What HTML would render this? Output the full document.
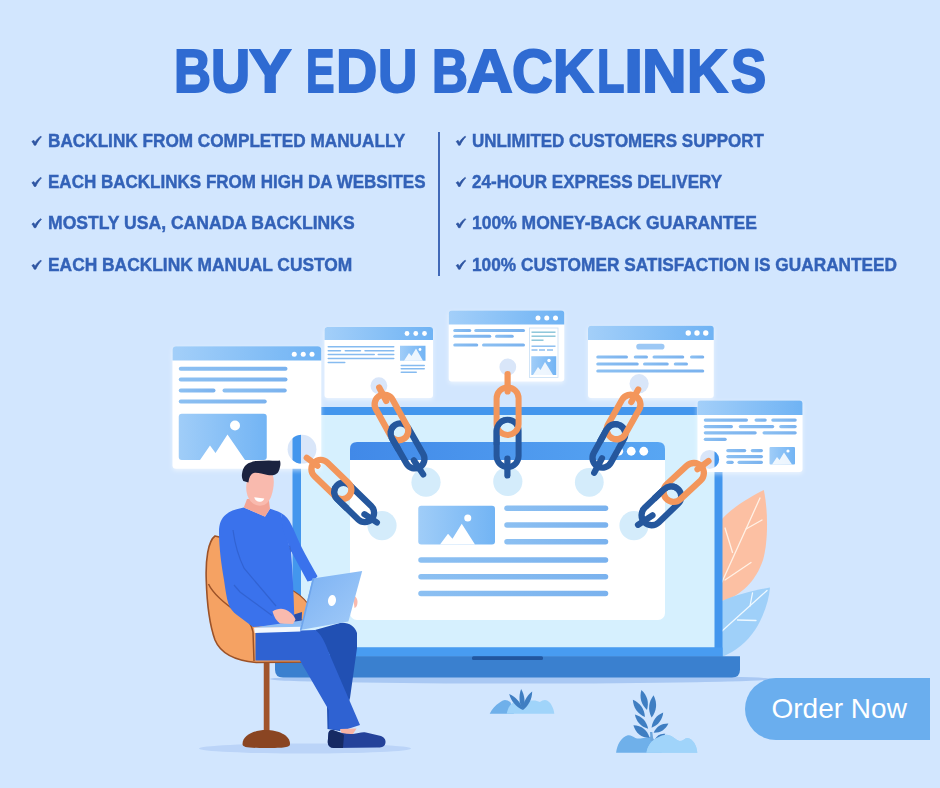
<!DOCTYPE html>
<html>
<head>
<meta charset="utf-8">
<title>Buy EDU Backlinks</title>
<style>
html,body{margin:0;padding:0;}
body{width:940px;height:788px;overflow:hidden;background:#d2e6fe;position:relative;font-family:"Liberation Sans",sans-serif;}
#art{position:absolute;left:0;top:0;width:940px;height:788px;}
.h{position:absolute;top:31.4px;-webkit-text-stroke:2px #2f6bd2;height:80px;line-height:80px;font-size:60.5px;font-weight:bold;color:#2f6bd2;white-space:nowrap;transform-origin:0 50%;letter-spacing:0;}
.b{position:absolute;-webkit-text-stroke:0.45px #3362b8;height:24px;line-height:24px;font-size:19.1px;font-weight:bold;color:#3362b8;white-space:nowrap;transform-origin:0 50%;}
.y1{top:128.7px}.y2{top:170.2px}.y3{top:210.7px}.y4{top:252.8px}
#divider{position:absolute;left:438px;top:132px;width:2px;height:144px;background:#4169b8;}
#btn{position:absolute;left:745px;top:678px;width:185px;height:62px;background:#6aaeee;border-radius:31px 0 0 31px;color:#fff;font-size:28px;line-height:62px;white-space:nowrap;}
#btn span{position:absolute;left:26.5px;top:-0.5px;}
</style>
</head>
<body>
<svg id="art" width="940" height="788" viewBox="0 0 940 788">
<defs>
<linearGradient id="gh" x1="0" y1="0" x2="1" y2="0"><stop offset="0" stop-color="#a3cff9"/><stop offset="1" stop-color="#6fb3f4"/></linearGradient>
<linearGradient id="gi" x1="0" y1="0" x2="1" y2="0"><stop offset="0" stop-color="#a0cdf8"/><stop offset="1" stop-color="#72b4f4"/></linearGradient>
<linearGradient id="gl" x1="0" y1="0" x2="1" y2="0"><stop offset="0" stop-color="#8cc0f2"/><stop offset="1" stop-color="#7ab2ee"/></linearGradient>
<linearGradient id="gbh" x1="0" y1="0" x2="1" y2="0"><stop offset="0" stop-color="#4189e8"/><stop offset="1" stop-color="#58a6f3"/></linearGradient>
<linearGradient id="gsl" x1="0" y1="0" x2="1" y2="1"><stop offset="0" stop-color="#7bb1f3"/><stop offset="1" stop-color="#a2cbf8"/></linearGradient>
<clipPath id="c1"><circle cx="302" cy="449.2" r="14.4"/></clipPath>
<clipPath id="c5"><circle cx="709.6" cy="459.4" r="9.5"/></clipPath>
<filter id="glow" x="-10%" y="-10%" width="120%" height="125%"><feGaussianBlur in="SourceAlpha" stdDeviation="2.2" result="b"/><feFlood flood-color="#ffffff" flood-opacity="0.55"/><feComposite in2="b" operator="in" result="g"/><feOffset in="g" dy="1.5" result="go"/><feMerge><feMergeNode in="go"/><feMergeNode in="SourceGraphic"/></feMerge></filter>
</defs>
<!-- shadow under laptop -->
<ellipse cx="520" cy="679" rx="250" ry="4.5" fill="#a9c8f3"/>
<!-- leaves behind laptop -->
<path d="M722 601 L722 519 C734 506 752 496 763.8 490 C768 510 768.5 540 763 560 C756 581 741 596 722 601 Z" fill="#fcc0a3"/>
<g stroke="#fff1e6" stroke-width="1.3" fill="none" stroke-linecap="round"><path d="M722 582 L760 498"/><path d="M746 529 L762 520"/><path d="M732.5 552.5 L725 528"/><path d="M725 580 L751 562.5"/></g>
<path d="M722 601 C738 594 756 590 770 587.5 C769 600 764 616 755 630 C747 642 736 651 722 657 Z" fill="#9fd0f9"/>
<g stroke="#eef8ff" stroke-width="1.3" fill="none" stroke-linecap="round"><path d="M722 631 L767 590.5"/><path d="M750 606 L752.5 593"/><path d="M737.5 620 L756 620.5"/></g>
<!-- laptop screen -->
<path d="M292.5 656.5 L292.5 413 Q292.5 407 298.5 407 L716.5 407 Q722.5 407 722.5 413 L722.5 656.5 Z" fill="#4396ed"/>
<rect x="301" y="415" width="413.5" height="232.5" fill="#d6f0fe"/>
<!-- inner browser -->
<rect x="350" y="442" width="315" height="178" rx="7" fill="#ffffff"/>
<path d="M350 460 L350 449 Q350 442 357 442 L658 442 Q665 442 665 449 L665 460 Z" fill="url(#gbh)"/>
<circle cx="618.75" cy="451.25" r="4.4" fill="#fff"/><circle cx="631.25" cy="451.25" r="4.4" fill="#fff"/><circle cx="643.75" cy="451.25" r="4.4" fill="#fff"/>
<rect x="418.25" y="505.75" width="76.75" height="38.75" rx="3" fill="url(#gi)"/>
<circle cx="467.75" cy="518" r="3.5" fill="#fff"/>
<path d="M440 544.5 L448 533.75 L452.5 538.75 L461.75 523.75 L475 544.5 Z" fill="#fff"/>
<g fill="url(#gl)">
<rect x="504.25" y="505.5" width="104" height="5.5" rx="2.75"/>
<rect x="504.25" y="522.25" width="104" height="5.5" rx="2.75"/>
<rect x="504.25" y="539" width="104" height="5.5" rx="2.75"/>
<rect x="418.25" y="557.25" width="190" height="5.5" rx="2.75"/>
<rect x="418.25" y="574" width="190" height="5.5" rx="2.75"/>
<rect x="418.25" y="590.75" width="190" height="5.5" rx="2.75"/>
</g>
<!-- base -->
<rect x="292.5" y="647.5" width="430" height="9" fill="#489cf1"/>
<path d="M275 656.25 L740 656.25 L740 669.5 Q740 677.5 732 677.5 L283 677.5 Q275 677.5 275 669.5 Z" fill="#3a80cf"/>
<rect x="472" y="656.25" width="71" height="3.75" rx="1.5" fill="#21569f"/>
<!-- window 1 -->
<g filter="url(#glow)">
<rect x="172.5" y="346.25" width="148.75" height="122.5" rx="3.5" fill="#fff"/>
<path d="M172.5 360.5 L172.5 349.75 Q172.5 346.25 176 346.25 L317.75 346.25 Q321.25 346.25 321.25 349.75 L321.25 360.5 Z" fill="url(#gh)"/>
<circle cx="294.25" cy="354.25" r="2.5" fill="#fff"/><circle cx="303.25" cy="354.25" r="2.5" fill="#fff"/><circle cx="312" cy="354.25" r="2.5" fill="#fff"/>
<g fill="url(#gl)">
<rect x="178.75" y="366.75" width="108.75" height="4" rx="2"/>
<rect x="178.75" y="377.5" width="108.75" height="4" rx="2"/>
<rect x="178.75" y="388.5" width="36.75" height="4" rx="2"/><rect x="222.5" y="388.5" width="64.25" height="4" rx="2"/>
<rect x="178.75" y="399.5" width="88" height="4" rx="2"/>
</g>
<rect x="178.75" y="413.75" width="88" height="46.25" rx="3" fill="url(#gi)"/>
<circle cx="235" cy="425.5" r="5" fill="#fff"/>
<path d="M200 460 L210 445.5 L215.5 453 L227.5 434.5 L245 460 Z" fill="#fff"/>
</g>
<!-- window 2 -->
<g filter="url(#glow)">
<rect x="324.5" y="327" width="108.5" height="71" rx="3" fill="#fff"/>
<path d="M324.5 340 L324.5 330 Q324.5 327 327.5 327 L430 327 Q433 327 433 330 L433 340 Z" fill="url(#gh)"/>
<circle cx="407" cy="333.5" r="2.4" fill="#fff"/><circle cx="415.75" cy="333.5" r="2.4" fill="#fff"/><circle cx="424.5" cy="333.5" r="2.4" fill="#fff"/>
<g fill="#86bbf0">
<rect x="327.5" y="346" width="67" height="1.6" rx="0.8"/>
<rect x="327.5" y="350" width="13.75" height="1.6" rx="0.8"/><rect x="344.5" y="350" width="16.75" height="1.6" rx="0.8"/><rect x="364.25" y="350" width="30.25" height="1.6" rx="0.8"/>
<rect x="327.5" y="353.75" width="47.5" height="1.6" rx="0.8"/><rect x="377.5" y="353.75" width="17" height="1.6" rx="0.8"/>
<rect x="327.5" y="357.75" width="67" height="1.6" rx="0.8"/>
<rect x="327.5" y="361.75" width="18" height="1.6" rx="0.8"/>
<rect x="400.5" y="364.75" width="24.5" height="1.6" rx="0.8"/>
<rect x="400.5" y="368" width="24.5" height="1.6" rx="0.8"/>
<rect x="400.5" y="371.5" width="16.5" height="1.6" rx="0.8"/>
</g>
<rect x="400" y="345.75" width="25.5" height="15" fill="url(#gi)"/>
<path d="M404 360.75 L409 353 L411.5 356 L416 348.5 L423 360.75 Z" fill="#fff" opacity="0.85"/>
<circle cx="420" cy="349.5" r="1.4" fill="#fff"/>
</g>
<!-- window 3 -->
<g filter="url(#glow)">
<rect x="448.75" y="310.5" width="115.5" height="71" rx="3" fill="#fff"/>
<path d="M448.75 324.5 L448.75 313.5 Q448.75 310.5 451.75 310.5 L561.25 310.5 Q564.25 310.5 564.25 313.5 L564.25 324.5 Z" fill="url(#gh)"/>
<circle cx="538" cy="318" r="2.5" fill="#fff"/><circle cx="546.75" cy="318" r="2.5" fill="#fff"/><circle cx="555.5" cy="318" r="2.5" fill="#fff"/>
<g fill="url(#gl)">
<rect x="453.25" y="328.95" width="18" height="3.1" rx="1.55"/><rect x="474.25" y="328.95" width="50.75" height="3.1" rx="1.55"/>
<rect x="453.25" y="334.70" width="38" height="3.1" rx="1.55"/><rect x="495" y="334.70" width="18.75" height="3.1" rx="1.55"/>
<rect x="453.25" y="343.45" width="25" height="3.1" rx="1.55"/><rect x="482" y="343.45" width="43" height="3.1" rx="1.55"/>
</g>
<rect x="529.5" y="328" width="28.5" height="49.5" fill="#fff" stroke="#c8dff6" stroke-width="0.8"/>
<g fill="#86c3d8">
<rect x="531.5" y="331.5" width="24" height="1.4"/><rect x="531.5" y="335.5" width="24" height="1.4"/><rect x="531.5" y="339.5" width="12" height="1.4"/>
</g>
<g fill="#86bbf0"><rect x="531.5" y="345.5" width="24" height="1.4"/><rect x="531.5" y="349.3" width="6" height="1.4"/><rect x="539" y="349.3" width="6" height="1.4"/><rect x="547" y="349.3" width="6" height="1.4"/></g>
<rect x="531.25" y="356.25" width="25" height="18.75" fill="url(#gi)"/>
<path d="M533 375 L538 367 L540.5 370 L545 362 L553 375 Z" fill="#fff" opacity="0.85"/>
<circle cx="549" cy="360.5" r="1.7" fill="#fff"/>
</g>
<!-- window 4 -->
<g filter="url(#glow)">
<rect x="588" y="325.75" width="125.75" height="72.25" rx="3" fill="#fff"/>
<path d="M588 340 L588 328.75 Q588 325.75 591 325.75 L710.75 325.75 Q713.75 325.75 713.75 328.75 L713.75 340 Z" fill="url(#gh)"/>
<circle cx="688.25" cy="333" r="2.7" fill="#fff"/><circle cx="697" cy="333" r="2.7" fill="#fff"/><circle cx="705.75" cy="333" r="2.7" fill="#fff"/>
<rect x="636.25" y="343.75" width="28.25" height="5.75" rx="2.8" fill="#9cc8f5"/>
<g fill="url(#gl)">
<rect x="596.25" y="355.45" width="31.75" height="3.1" rx="1.55"/><rect x="633.75" y="355.45" width="14.25" height="3.1" rx="1.55"/><rect x="652.5" y="355.45" width="31.75" height="3.1" rx="1.55"/><rect x="690" y="355.45" width="14.25" height="3.1" rx="1.55"/>
<rect x="596.25" y="362.45" width="42.5" height="3.1" rx="1.55"/><rect x="643" y="362.45" width="25.75" height="3.1" rx="1.55"/><rect x="673.75" y="362.45" width="14.25" height="3.1" rx="1.55"/>
<rect x="596.25" y="369.45" width="108" height="3.1" rx="1.55"/>
</g>
</g>
<!-- window 5 -->
<g filter="url(#glow)">
<rect x="697.5" y="400.5" width="105" height="71.5" rx="3" fill="#fff"/>
<path d="M697.5 415 L697.5 403.5 Q697.5 400.5 700.5 400.5 L799.5 400.5 Q802.5 400.5 802.5 403.5 L802.5 415 Z" fill="url(#gh)"/>
<g fill="url(#gl)">
<rect x="703.75" y="418.45" width="44.25" height="3.2" rx="1.60"/><rect x="754.5" y="418.45" width="12.25" height="3.2" rx="1.60"/><rect x="771.25" y="418.45" width="25.5" height="3.2" rx="1.60"/>
<rect x="703.75" y="424.95" width="29.25" height="3.2" rx="1.60"/><rect x="738.75" y="424.95" width="35.5" height="3.2" rx="1.60"/><rect x="779.25" y="424.95" width="17.5" height="3.2" rx="1.60"/>
<rect x="703.75" y="431.20" width="53" height="3.2" rx="1.60"/><rect x="762.5" y="431.20" width="34.25" height="3.2" rx="1.60"/>
<rect x="703.75" y="437.70" width="23" height="3.2" rx="1.60"/>
<rect x="726.25" y="448.95" width="20" height="3.2" rx="1.60"/><rect x="750.75" y="448.95" width="12.25" height="3.2" rx="1.60"/>
<rect x="726.25" y="454.95" width="36.75" height="3.2" rx="1.60"/>
<rect x="726.25" y="460.70" width="7.5" height="3.2" rx="1.60"/><rect x="737.5" y="460.70" width="25.5" height="3.2" rx="1.60"/>
</g>
<rect x="769.5" y="447" width="25.5" height="17.5" rx="1" fill="url(#gi)"/>
<path d="M772 464.5 L777 457 L779.5 460 L784 452.5 L792 464.5 Z" fill="#fff" opacity="0.85"/>
<circle cx="788" cy="451" r="1.6" fill="#fff"/>
</g>
<!-- anchor circles -->
<g fill="#d9e6f9">
<circle cx="302" cy="449.2" r="14.4"/>
<circle cx="378.9" cy="385.7" r="8.4"/>
<circle cx="507.8" cy="367" r="8.4"/>
<circle cx="639.1" cy="383.7" r="9.6"/>
<circle cx="709.6" cy="459.4" r="9.5"/>
</g>
<rect x="292.5" y="430" width="8.5" height="40" fill="#4396ed" clip-path="url(#c1)"/>
<rect x="714.5" y="445" width="8.5" height="30" fill="#4396ed" clip-path="url(#c5)"/>
<g fill="#d4ecfb">
<circle cx="382" cy="525.6" r="14.6"/>
<circle cx="426" cy="482.2" r="14.6"/>
<circle cx="507.8" cy="481.5" r="14.6"/>
<circle cx="589.3" cy="482.3" r="14.4"/>
<circle cx="634" cy="525.6" r="14.6"/>
</g>
<!-- chains (generated) -->
<rect x="-9.35" y="-24.15" width="18.70" height="48.30" rx="9.35" transform="translate(354.10 502.40) rotate(-45.89)" fill="none" stroke="#25579d" stroke-width="6.3"/>
<path d="M364.40 514.20 L376.90 522.50" fill="none" stroke="#25579d" stroke-width="6.2" stroke-linecap="round"/>
<rect x="-9.35" y="-24.15" width="18.70" height="48.30" rx="9.35" transform="translate(331.40 479.50) rotate(-45.89)" fill="none" stroke="#f3965b" stroke-width="6.3"/>
<path d="M306.70 457.80 L317.50 465.80" fill="none" stroke="#f3965b" stroke-width="6.2" stroke-linecap="round"/>
<path d="M-9.35 -0.80 L-9.35 -14.80 A9.35 9.35 0 0 1 -2.34 -23.85" transform="translate(354.10 502.40) rotate(-45.89)" fill="none" stroke="#25579d" stroke-width="6.3" stroke-linecap="butt"/>
<rect x="-9.60" y="-24.44" width="19.20" height="48.88" rx="9.60" transform="translate(407.50 445.95) rotate(-29.77)" fill="none" stroke="#25579d" stroke-width="6.3"/>
<path d="M413.80 460.30 L423.20 474.40" fill="none" stroke="#25579d" stroke-width="6.2" stroke-linecap="round"/>
<rect x="-9.60" y="-24.62" width="19.20" height="49.24" rx="9.60" transform="translate(391.45 417.45) rotate(-28.73)" fill="none" stroke="#f3965b" stroke-width="6.3"/>
<path d="M379.20 387.50 L386.20 401.00" fill="none" stroke="#f3965b" stroke-width="6.2" stroke-linecap="round"/>
<path d="M-9.60 -0.84 L-9.60 -14.84 A9.60 9.60 0 0 1 -2.40 -24.14" transform="translate(407.50 445.95) rotate(-29.77)" fill="none" stroke="#25579d" stroke-width="6.3" stroke-linecap="butt"/>
<rect x="-11.00" y="-23.70" width="22.00" height="47.40" rx="11.00" transform="translate(507.60 443.40) rotate(-0.00)" fill="none" stroke="#25579d" stroke-width="6.0"/>
<path d="M507.40 458.50 L507.40 475.50" fill="none" stroke="#25579d" stroke-width="6.2" stroke-linecap="round"/>
<rect x="-11.00" y="-23.70" width="22.00" height="47.40" rx="11.00" transform="translate(507.60 411.20) rotate(-0.00)" fill="none" stroke="#f3965b" stroke-width="6.0"/>
<path d="M507.60 374.00 L507.60 391.50" fill="none" stroke="#f3965b" stroke-width="6.2" stroke-linecap="round"/>
<path d="M-11.00 1.30 L-11.00 -12.70 A11.00 11.00 0 0 1 -2.75 -23.35" transform="translate(507.60 443.40) rotate(-0.00)" fill="none" stroke="#25579d" stroke-width="6.0" stroke-linecap="butt"/>
<rect x="-9.85" y="-23.43" width="19.70" height="46.87" rx="9.85" transform="translate(608.90 445.90) rotate(28.78)" fill="none" stroke="#25579d" stroke-width="6.3"/>
<path d="M602.00 458.30 L594.20 472.80" fill="none" stroke="#25579d" stroke-width="6.2" stroke-linecap="round"/>
<rect x="-9.85" y="-24.08" width="19.70" height="48.15" rx="9.85" transform="translate(623.60 417.00) rotate(29.48)" fill="none" stroke="#f3965b" stroke-width="6.3"/>
<path d="M638.20 389.50 L631.30 402.00" fill="none" stroke="#f3965b" stroke-width="6.2" stroke-linecap="round"/>
<path d="M-9.85 0.42 L-9.85 -13.58 A9.85 9.85 0 0 1 -2.46 -23.12" transform="translate(608.90 445.90) rotate(28.78)" fill="none" stroke="#25579d" stroke-width="6.3" stroke-linecap="butt"/>
<rect x="-10.10" y="-23.58" width="20.20" height="47.17" rx="10.10" transform="translate(661.40 505.80) rotate(46.21)" fill="none" stroke="#25579d" stroke-width="6.3"/>
<path d="M652.50 515.30 L638.00 524.80" fill="none" stroke="#25579d" stroke-width="6.2" stroke-linecap="round"/>
<rect x="-10.10" y="-23.81" width="20.20" height="47.62" rx="10.10" transform="translate(683.70 482.40) rotate(47.25)" fill="none" stroke="#f3965b" stroke-width="6.3"/>
<path d="M708.50 461.00 L697.50 469.30" fill="none" stroke="#f3965b" stroke-width="6.2" stroke-linecap="round"/>
<path d="M-10.10 0.52 L-10.10 -13.48 A10.10 10.10 0 0 1 -2.52 -23.26" transform="translate(661.40 505.80) rotate(46.21)" fill="none" stroke="#25579d" stroke-width="6.3" stroke-linecap="butt"/>
<!-- floor shadow -->
<ellipse cx="305" cy="748.5" rx="106" ry="5" fill="#bbd4f8"/>
<!-- chair -->
<rect x="263.75" y="662" width="5.75" height="72" fill="#a0542c"/>
<path d="M242.5 744 C242.5 735 255 730 266 730 C278 730 290 735 290 744 C290 747.5 284 748 266 748 C248 748 242.5 747.5 242.5 744 Z" fill="#8a4522"/>
<path d="M215 536 C208 541 205.5 560 206.25 580 C207 606 210 626 215 640 C220 652 233 660.5 256.25 662.5 L307.5 662 L307.5 640 L262 600 L232 540 Z" fill="#f5a263" stroke="#9c5228" stroke-width="1.6" stroke-linejoin="round"/>
<path d="M208.5 584 C214 596 228 606 240 614 C248 619 252 625 253 632 L254 661" fill="none" stroke="#9c5228" stroke-width="1.5"/>
<path d="M288 588 C296 592 304 598 308 604 L306 620 L290 620 Z" fill="#f5a263" stroke="#9c5228" stroke-width="1.2"/>
<!-- back leg -->
<path d="M315 630 L340 623 C348 622 355 626 357 633 L357 648 L350 698 L340 731 L327.5 729 L327 707 L330 655 Z" fill="#2150b3"/>
<!-- front leg -->
<path d="M255.5 632 L301 630.5 L315 630 C320 632 326 644 328.75 652.5 L360 725 L343 730.5 L328.75 728.75 L328.75 710 L300 660.5 L255.5 660.5 Z" fill="#2f62d2"/>
<!-- shoe -->
<path d="M340 729 L356.5 728.5 L353 734 L342 734 Z" fill="#f7b3a5"/>
<path d="M328.5 733 C329 730.5 331 729.5 334 730.5 C340 733 347 734.5 353 734 C358 733.5 362 731.5 366 732.5 L381 736 C385 737.5 386.5 741 385 744.5 C384 747 381 747.5 377 747.5 L334 748 C329.5 748 327.5 745 327.8 741 Z" fill="#24429a"/>
<path d="M328.5 733 C329 730.5 331 729.5 334 730.5 C338 732 342 733 344 735 L343 748 L334 748 C329.5 748 327.5 745 327.8 741 Z" fill="#162a63"/>
<!-- torso + near arm -->
<path d="M294 614.5 L302 612 L301.5 624 L294 624 Z" fill="#2a4fa8"/>
<path d="M243.75 507.5 C236 509 230 511 226 514.5 C221 518.5 219 524 219 532 C219 548 221.5 565 224 580 C225.5 590 226.5 598 228.5 604 C230 608.5 233 612 237 615 L253 627 L294.5 623.5 C294 605 293 575 291 552 L284 528 L281 513 C277 511 273 509.5 270 508.75 L265 516.5 Z" fill="#3a72ec"/>
<path d="M281 513 C286 515.5 289 519.5 291.5 525 C294.5 531 297.5 539 301.5 547 C306 556 313 568 317.5 576.25 L314.25 580 L307.5 581.5 L291 551 L283 530 Z" fill="#3a72ec"/>
<path d="M233 530 C235 545 239 558 244.2 568.4 L276 606 M234 585 L240 592 L272 615.5 M289.5 546 L291 552" fill="none" stroke="#2f5fcc" stroke-width="1.2" opacity="0.8"/>
<!-- neck -->
<path d="M247 499 L243.75 507.5 L265 516.75 L270 508.75 L268.75 499 Z" fill="#f3a596"/>
<!-- head -->
<path d="M248 476 C246.5 482 245.8 487 246.5 491.5 C247.3 496.5 249.5 501 253 503.5 C256 505.5 259.5 506.2 263 505.3 C267 504.2 270 500 271.5 495.5 C273 491 273.8 486 273.8 482 C273.8 478 273 475 271.5 472.5 L252 470 Z" fill="#f9baae"/>
<path d="M254.2 497.3 L264.3 498.4 C263.6 500.8 261.4 502 259 501.8 C256.6 501.6 254.7 499.8 254.2 497.3 Z" fill="#fff"/>
<path d="M243.3 481 C242 478.5 241.6 476 242 474 C242.5 470.5 243.3 468.5 244.6 466.6 C246 464.5 247.8 463.5 249.7 462.8 C251.8 461.7 254 461 256.1 460.9 L268.9 460.6 C272.5 460.6 276.5 461.2 279.9 460.6 C280.6 462.5 280.6 464.5 280.1 466.6 C279.8 468.5 279.3 470.2 278.4 471.7 C277.4 473.4 275.8 474.6 274 474.9 C272 475.3 269.8 475.2 267.6 474.9 C265.5 474.6 263.3 474 261.2 473.6 C259 473.1 256.8 472.5 254.8 472.7 C253.5 472.9 252.4 473.4 251.6 474.3 C250.4 475.5 249.6 477 249.1 478.7 L248.4 482.5 Z" fill="#1b2340"/>
<!-- hand + small laptop -->
<path d="M262 626.2 L302 620.5 L300.8 627.2 L254 627.9 Z" fill="#8fbef5"/>
<path d="M272.5 611.5 C276 609 281 608 285 609.5 C290 611.5 294 615.5 295.5 619.5 L293 624 L280 623.5 C276.5 621 274 617 272.5 611.5 Z" fill="#f9baae"/>
<path d="M254 627.7 L300.8 626.8 L300.3 631.4 L254.7 632.9 Z" fill="#f3f8fe"/>
<path d="M353 596 C356 596 357.5 599 357.5 602 C357.5 605 356.5 607.5 354.5 608 Z" fill="#f9baae"/>
<path d="M312.6 578.4 L362.2 570.9 L348.4 621.4 L300 629.9 Z" fill="url(#gsl)"/>
<path d="M312.6 578.4 L314.4 578.1 L301.8 629.6 L300 629.9 Z" fill="#6ea5ec"/>
<ellipse cx="332" cy="600.5" rx="4" ry="5.6" fill="#fff" transform="rotate(8 332 600.5)"/>
<!-- plant 1 -->
<path d="M489.7 713.8 C492 709 496 705 499 703 C501.5 701 503.5 700 505 700 C507 700 509 701 510.5 702.3 L514 713.8 Z" fill="#6fb0ea"/>
<path d="M506.7 713.8 C507.5 710 508.5 707.5 510 705.5 C512 702.8 514 701.5 516.5 701.3 L533 700.4 C535.5 700.3 538 701 539.9 702.1 C541.5 700.8 543.3 700 545 700 C548 700.3 550 702.5 551.3 704.7 C553 707.5 554 710.5 554.3 713.8 Z" fill="#a0d4fa"/>
<g fill="#3f7ec2">
<path d="M0 -10.53 C3.28 -3.51 3.28 3.51 0 10.53 C-3.28 3.51 -3.28 -3.51 0 -10.53 Z" transform="translate(516.05 702.00) rotate(-40.6)"/>
<path d="M0 -10.59 C3.28 -3.53 3.28 3.53 0 10.59 C-3.28 3.53 -3.28 -3.53 0 -10.59 Z" transform="translate(522.00 699.45) rotate(-4.9)"/>
<path d="M0 -10.35 C3.28 -3.45 3.28 3.45 0 10.35 C-3.28 3.45 -3.28 -3.45 0 -10.35 Z" transform="translate(527.55 700.75) rotate(26.7)"/>
</g>
<!-- plant 2 -->
<path d="M616.1 752.8 C616.6 748.5 617.8 745 619.6 742 C621.6 738.8 624.5 736.2 627.8 735.3 C630.5 734.8 633 736.5 635.4 737.9 C637 738.6 638.8 738.7 640.5 738.4 L652 736.5 L662 752.8 Z" fill="#6fb0ea"/>
<path d="M646.5 752.8 C647 749 648.5 745.8 650.6 743 C652.8 740.2 655.6 738 658.7 736.9 C661.5 735.6 664.3 734.7 666.9 734.8 C670 735 672.8 736.8 675 738.4 C676.8 739.6 678.5 741 680 741 C682.6 741 684.8 738.2 687.2 737.9 C690 737.8 692.6 740.3 694.3 743 C696 745.8 697 749.2 697.3 752.8 Z" fill="#a0d4fa"/>
<path d="M650 732 L652.3 732 L653.5 741 L650.5 741 Z" fill="#6ea6dc"/>
<g fill="#3f7ec2">
<path d="M0 -10.30 C4.18 -3.43 4.18 3.43 0 10.30 C-4.18 3.43 -4.18 -3.43 0 -10.30 Z" transform="translate(644.20 700.00) rotate(-15.8)"/>
<path d="M0 -11.20 C4.59 -3.73 4.59 3.73 0 11.20 C-4.59 3.73 -4.59 -3.73 0 -11.20 Z" transform="translate(652.60 706.40) rotate(5.0)"/>
<path d="M0 -10.55 C4.18 -3.52 4.18 3.52 0 10.55 C-4.18 3.52 -4.18 -3.52 0 -10.55 Z" transform="translate(638.90 708.40) rotate(-35.0)"/>
<path d="M0 -9.60 C3.77 -3.20 3.77 3.20 0 9.60 C-3.77 3.20 -3.77 -3.20 0 -9.60 Z" transform="translate(657.40 720.10) rotate(37.5)"/>
<path d="M0 -9.70 C3.94 -3.23 3.94 3.23 0 9.70 C-3.94 3.23 -3.94 -3.23 0 -9.70 Z" transform="translate(641.50 721.60) rotate(-43.0)"/>
<path d="M0 -8.70 C3.77 -2.90 3.77 2.90 0 8.70 C-3.77 2.90 -3.77 -2.90 0 -8.70 Z" transform="translate(661.00 728.20) rotate(58.0)"/>
<path d="M0 -10.30 C4.92 -3.43 4.92 3.43 0 10.30 C-4.92 3.43 -4.92 -3.43 0 -10.30 Z" transform="translate(641.50 731.50) rotate(-52.0)"/>
<path d="M0 -6.15 C2.95 -2.05 2.95 2.05 0 6.15 C-2.95 2.05 -2.95 -2.05 0 -6.15 Z" transform="translate(660.00 736.90) rotate(60.0)"/>
</g>
<path d="M646.5 752.8 C647 749 648.5 745.8 650.6 743 C652.8 740.2 655.6 738 658.7 736.9 C661.5 735.6 664.3 734.7 666.9 734.8 C670 735 672.8 736.8 675 738.4 C676.8 739.6 678.5 741 680 741 C682.6 741 684.8 738.2 687.2 737.9 C690 737.8 692.6 740.3 694.3 743 C696 745.8 697 749.2 697.3 752.8 Z" fill="#a0d4fa"/>
<!-- check marks -->
<defs><path id="ck" d="M0.2 5.3 L2.1 4.1 L3.3 6.2 C4.9 3.5 6.9 1.3 9.2 0 L9.7 0.7 C7.4 3.1 5.4 5.9 4.1 9 L2.5 9 C1.9 7.5 1.2 6.3 0.2 5.3 Z" fill="#2e55a2" stroke="#2e55a2" stroke-width="0.7" stroke-linejoin="round"/></defs>
<use href="#ck" x="31.7" y="136.2"/>
<use href="#ck" x="456" y="136.2"/>
<use href="#ck" x="31.7" y="177.4"/>
<use href="#ck" x="456" y="177.4"/>
<use href="#ck" x="31.7" y="218.7"/>
<use href="#ck" x="456" y="218.7"/>
<use href="#ck" x="31.7" y="260.2"/>
<use href="#ck" x="456" y="260.2"/>
</svg>

<div class="h" style="left:174.16px;transform:scaleX(0.8470)">B</div>
<div class="h" style="left:210.74px;transform:scaleX(0.8965)">U</div>
<div class="h" style="left:249.32px;transform:scaleX(1.0497)">Y</div>
<div class="h" style="left:306.34px;transform:scaleX(0.7050)">E</div>
<div class="h" style="left:335.73px;transform:scaleX(0.9447)">D</div>
<div class="h" style="left:377.93px;transform:scaleX(0.8992)">U</div>
<div class="h" style="left:432.35px;transform:scaleX(0.8208)">B</div>
<div class="h" style="left:466.50px;transform:scaleX(1.0456)">A</div>
<div class="h" style="left:512.26px;transform:scaleX(0.9313)">C</div>
<div class="h" style="left:553.30px;transform:scaleX(0.9252)">K</div>
<div class="h" style="left:596.51px;transform:scaleX(0.7426)">L</div>
<div class="h" style="left:624.45px;transform:scaleX(1.1497)">I</div>
<div class="h" style="left:642.27px;transform:scaleX(1.0222)">N</div>
<div class="h" style="left:686.88px;transform:scaleX(0.9300)">K</div>
<div class="h" style="left:731.31px;transform:scaleX(0.8722)">S</div>

<div class="b l y1" style="left:48.18px;transform:scaleX(0.8998)">BACKLINK FROM COMPLETED MANUALLY</div>
<div class="b l y2" style="left:48.21px;transform:scaleX(0.8913)">EACH BACKLINKS FROM HIGH DA WEBSITES</div>
<div class="b l y3" style="left:48.11px;transform:scaleX(0.9196)">MOSTLY USA, CANADA BACKLINKS</div>
<div class="b l y4" style="left:48.18px;transform:scaleX(0.9098)">EACH BACKLINK MANUAL CUSTOM</div>
<div class="b r y1" style="left:471.90px;transform:scaleX(0.8883)">UNLIMITED CUSTOMERS SUPPORT</div>
<div class="b r y2" style="left:472.11px;transform:scaleX(0.8954)">24-HOUR EXPRESS DELIVERY</div>
<div class="b r y3" style="left:471.70px;transform:scaleX(0.9163)">100% MONEY-BACK GUARANTEE</div>
<div class="b r y4" style="left:471.73px;transform:scaleX(0.9038)">100% CUSTOMER SATISFACTION IS GUARANTEED</div>
<div id="divider"></div>
<div id="btn"><span>Order Now</span></div>
</body>
</html>
